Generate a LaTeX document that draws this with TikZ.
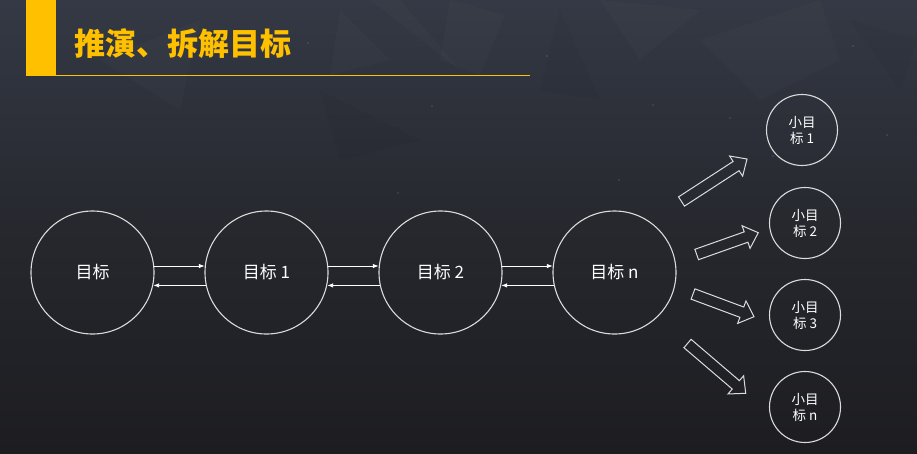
\documentclass[tikz,border=0pt]{standalone}
\usepackage{fontspec}
\setmainfont{Noto Sans CJK SC}
\usetikzlibrary{arrows.meta,calc}
\definecolor{titleyellow}{HTML}{FFC000}
\definecolor{bgtop}{HTML}{343945}
\definecolor{bgmid}{HTML}{26282E}
\definecolor{bgbot}{HTML}{1D1D21}
\definecolor{ringgray}{HTML}{DCDCDC}
\tikzset{
  bigcircle/.style={circle,draw=ringgray,line width=1.1pt,minimum size=123pt,inner sep=0pt,text=white,font=\fontsize{17}{18}\selectfont},
  smallcircle/.style={circle,draw=ringgray,line width=1.1pt,minimum size=71pt,inner sep=0pt,text=white,align=center,font=\fontsize{13.5}{16}\selectfont},
  link/.style={draw=white,line width=0.9pt,-{Latex[length=6pt,width=4.5pt]}},
  blockarrow/.style={draw=ringgray,line width=1pt,line join=miter},
  facet/.style={fill=white,fill opacity=0.015,draw=none},
  darkfacet/.style={fill=black,fill opacity=0.03,draw=none},
  speck/.style={fill=white,fill opacity=0.35,draw=none},
}
\newcommand{\outlinearrow}[2]{%
  \coordinate (#1h) at ($(#2)!13pt!(#1)$);
  \draw[blockarrow] ($(#1)!5.5pt!90:(#2)$) -- ($(#1h)!5.5pt!90:(#2)$) -- ($(#1h)!12pt!90:(#2)$) -- (#2)
    -- ($(#1h)!12pt!-90:(#2)$) -- ($(#1h)!5.5pt!-90:(#2)$) -- ($(#1)!5.5pt!-90:(#2)$) -- cycle;}
\begin{document}
\begin{tikzpicture}[x=1pt,y=-1pt]
\useasboundingbox (0,0) rectangle (917,453);
% background
\shade[top color=bgtop,bottom color=bgbot,middle color=bgmid] (0,0) rectangle (917,453);
% faint facets
\path[facet] (370,0) -- (460,70) -- (400,0) -- cycle;
\path[facet] (450,0) -- (505,15) -- (480,75) -- (440,60) -- cycle;
\path[facet] (340,10) -- (390,60) -- (330,75) -- cycle;
\path[facet] (600,0) -- (700,10) -- (640,60) -- cycle;
\path[facet] (700,40) -- (820,0) -- (840,60) -- (760,100) -- cycle;
\path[darkfacet] (560,10) -- (600,100) -- (540,90) -- cycle;
\path[darkfacet] (320,90) -- (420,140) -- (340,160) -- cycle;
\path[darkfacet] (850,20) -- (917,40) -- (900,90) -- cycle;
\path[facet] (100,60) -- (200,20) -- (180,110) -- cycle;
% specks
\fill[speck] (308,43) circle (0.6);
\fill[speck] (432,106) circle (0.6);
\fill[speck] (547,56) circle (0.6);
\fill[speck] (653,105) circle (0.6);
\fill[speck] (773,156) circle (0.6);
\fill[speck] (853,46) circle (0.6);
\fill[speck] (887,135) circle (0.6);
\fill[speck] (619,180) circle (0.6);
\fill[speck] (730,118) circle (0.6);
\fill[speck] (398,193) circle (0.6);
% title
\fill[titleyellow] (26,0) rectangle (56,76);
\draw[titleyellow,line width=1pt] (26,75.5) -- (530,75.5);
\node[anchor=west,text=titleyellow,inner sep=0pt,font=\fontsize{31}{36}\selectfont\bfseries] (title) at (74,44) {推演、拆解目标};
% main chain
\node[bigcircle] (g0) at (92.5,272.5) {目标};
\node[bigcircle] (g1) at (266.5,272.5) {目标 1};
\node[bigcircle] (g2) at (440.5,272.5) {目标 2};
\node[bigcircle] (gn) at (614.5,272.5) {目标 n};
\draw[link] (g0.6) -- (g1.174);
\draw[link] (g1.-168) -- (g0.-12);
\draw[link] (g1.6) -- (g2.174);
\draw[link] (g2.-168) -- (g1.-12);
\draw[link] (g2.6) -- (gn.174);
\draw[link] (gn.-168) -- (g2.-12);
% sub goals
\node[smallcircle] (s1) at (802,130) {小目\\标 1};
\node[smallcircle] (s2) at (805,223) {小目\\标 2};
\node[smallcircle] (s3) at (805,315) {小目\\标 3};
\node[smallcircle] (s4) at (805,407) {小目\\标 n};
% block arrows
\coordinate (a1) at (681.5,201.5); \coordinate (b1) at (747,159);
\coordinate (a2) at (696.7,254.5); \coordinate (b2) at (758.3,232.7);
\coordinate (a3) at (693,294);     \coordinate (b3) at (754,316.7);
\coordinate (a4) at (687.5,343.5); \coordinate (b4) at (745.7,393.3);
\outlinearrow{a1}{b1}
\outlinearrow{a2}{b2}
\outlinearrow{a3}{b3}
\outlinearrow{a4}{b4}
\end{tikzpicture}
\end{document}
